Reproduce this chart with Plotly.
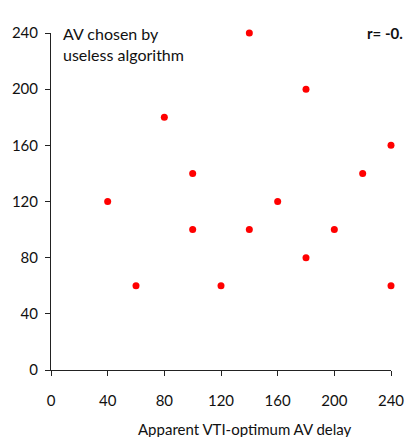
import plotly.graph_objects as go

x_vals = [40, 60, 80, 100, 100, 120, 140, 140, 160, 180, 180, 200, 220, 240, 240]
y_vals = [120, 60, 180, 140, 100, 60, 240, 100, 120, 200, 80, 100, 140, 160, 60]
tick_vals = [0, 40, 80, 120, 160, 200, 240]

FONT = "Lato, 'Open Sans', sans-serif"

fig = go.Figure()
fig.add_trace(go.Scatter(x=x_vals, y=y_vals, mode="markers",
                         marker=dict(color="#ff0000", size=7), cliponaxis=False))

axis_common = dict(range=[0, 240], tickvals=tick_vals, ticks="outside", ticklen=5,
                   tickcolor="#222", showline=True, linecolor="#222", linewidth=1,
                   showgrid=False, zeroline=False, automargin=False,
                   ticklabeloverflow="allow",
                   tickfont=dict(family=FONT, size=15, color="#111"))
fig.update_xaxes(**axis_common, ticklabelstandoff=12)
fig.update_yaxes(**axis_common, ticklabelstandoff=4)

fig.add_annotation(xref="paper", yref="paper", x=0.029, y=1.0, xanchor="left", yanchor="middle",
                   text="AV chosen by", showarrow=False, align="left",
                   font=dict(family=FONT, size=16, color="#111"))
fig.add_annotation(xref="paper", yref="paper", x=0.029, y=0.935, xanchor="left", yanchor="middle",
                   text="useless algorithm", showarrow=False, align="left",
                   font=dict(family=FONT, size=16, color="#111"))
fig.add_annotation(xref="paper", yref="paper", x=1.04, y=1.0, xanchor="right", yanchor="middle",
                   text="<b>r= -0.</b>", showarrow=False,
                   font=dict(family=FONT, size=15, color="#111"))
fig.add_annotation(xref="paper", yref="paper", x=0.57, y=-0.175, xanchor="center", yanchor="middle",
                   text="Apparent VTI-optimum AV delay", showarrow=False,
                   font=dict(family=FONT, size=15, color="#111"))

fig.update_layout(width=406, height=429, margin=dict(l=43, r=23, t=25, b=67),
                  plot_bgcolor="white", paper_bgcolor="white", showlegend=False)
fig.write_html("out.html")
